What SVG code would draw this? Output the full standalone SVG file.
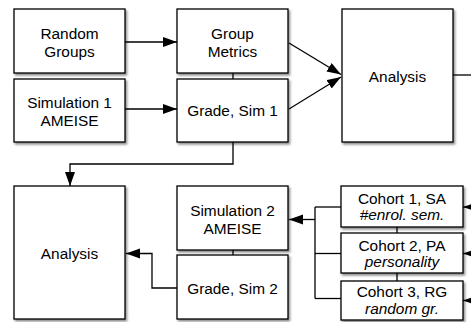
<svg xmlns="http://www.w3.org/2000/svg" width="471" height="322" viewBox="0 0 471 322">
<style>
.box{fill:#fff;stroke:#000;stroke-width:1.3;filter:url(#sh)}
.t{font-family:"Liberation Sans",Arial,Helvetica,sans-serif;font-size:15.4px;fill:#000;text-anchor:middle}
.i{font-style:italic}
.c{fill:none;stroke:#000;stroke-width:1.3}
.a{marker-end:url(#ah)}
</style>
<defs>
<filter id="sh" x="-10%" y="-10%" width="130%" height="130%">
<feDropShadow dx="1.5" dy="2" stdDeviation="1" flood-color="#000" flood-opacity="0.45"/>
</filter>
<marker id="ah" markerUnits="userSpaceOnUse" markerWidth="15" markerHeight="11" refX="14" refY="5" orient="auto">
<path d="M0,0 L14,5 L0,10 z" fill="#000"/>
</marker>
</defs>
<g id="connectors">
<line class="c a" x1="125" y1="42" x2="177" y2="42"/>
<line class="c a" x1="125" y1="109" x2="177" y2="109"/>
<line class="c a" x1="289" y1="43" x2="341" y2="74.5"/>
<line class="c a" x1="289" y1="109" x2="341" y2="77"/>
<line class="c" x1="453" y1="75" x2="471" y2="75"/>
<line class="c" x1="233" y1="73" x2="233" y2="79"/>
<polyline class="c a" points="233,142 233,164 70,164 70,186"/>
<line class="c" x1="233" y1="250" x2="233" y2="255"/>
<polyline class="c a" points="177,288 152,288 152,253.5 126,253.5"/>
<line class="c a" x1="315" y1="219.5" x2="289" y2="219.5"/>
<line class="c" x1="315" y1="207" x2="315" y2="298.5"/>
<line class="c" x1="315" y1="207" x2="341" y2="207"/>
<line class="c" x1="315" y1="253.5" x2="341" y2="253.5"/>
<line class="c" x1="315" y1="298.5" x2="341" y2="298.5"/>
<line class="c" x1="397" y1="227" x2="397" y2="233"/>
<line class="c" x1="397" y1="273" x2="397" y2="281"/>
<line class="c a" x1="480" y1="207" x2="463" y2="207"/>
<line class="c a" x1="480" y1="253.5" x2="463" y2="253.5"/>
<line class="c a" x1="480" y1="300.5" x2="463" y2="300.5"/>
</g>
<g id="random-groups">
<rect class="box" x="14" y="9" width="111" height="64"/>
<text class="t" x="69.5" y="39">Random</text>
<text class="t" x="69.5" y="57">Groups</text>
</g>
<g id="simulation-1">
<rect class="box" x="14" y="79" width="111" height="63"/>
<text class="t" x="69.5" y="107.5">Simulation 1</text>
<text class="t" x="69.5" y="125.5">AMEISE</text>
</g>
<g id="group-metrics">
<rect class="box" x="177" y="9" width="111" height="64"/>
<text class="t" x="232.5" y="39">Group</text>
<text class="t" x="232.5" y="57">Metrics</text>
</g>
<g id="grade-sim-1">
<rect class="box" x="177" y="79" width="111" height="63"/>
<text class="t" x="232.5" y="115.5">Grade, Sim 1</text>
</g>
<g id="analysis-1">
<rect class="box" x="342" y="9" width="111" height="133"/>
<text class="t" x="397.5" y="82">Analysis</text>
</g>
<g id="analysis-2">
<rect class="box" x="14" y="186" width="111" height="133"/>
<text class="t" x="69.5" y="259">Analysis</text>
</g>
<g id="simulation-2">
<rect class="box" x="177" y="186" width="111" height="64"/>
<text class="t" x="232.5" y="215.5">Simulation 2</text>
<text class="t" x="232.5" y="234">AMEISE</text>
</g>
<g id="grade-sim-2">
<rect class="box" x="177" y="255" width="111" height="64"/>
<text class="t" x="232.5" y="293.5">Grade, Sim 2</text>
</g>
<g id="cohort-1">
<rect class="box" x="341" y="186" width="122" height="41"/>
<text class="t" x="402" y="203.5">Cohort 1, SA</text>
<text class="t i" x="402" y="220">#enrol. sem.</text>
</g>
<g id="cohort-2">
<rect class="box" x="341" y="233" width="122" height="40"/>
<text class="t" x="402" y="250.5">Cohort 2, PA</text>
<text class="t i" x="402" y="267">personality</text>
</g>
<g id="cohort-3">
<rect class="box" x="341" y="281" width="122" height="39"/>
<text class="t" x="402" y="297">Cohort 3, RG</text>
<text class="t i" x="402" y="314">random gr.</text>
</g>
</svg>
